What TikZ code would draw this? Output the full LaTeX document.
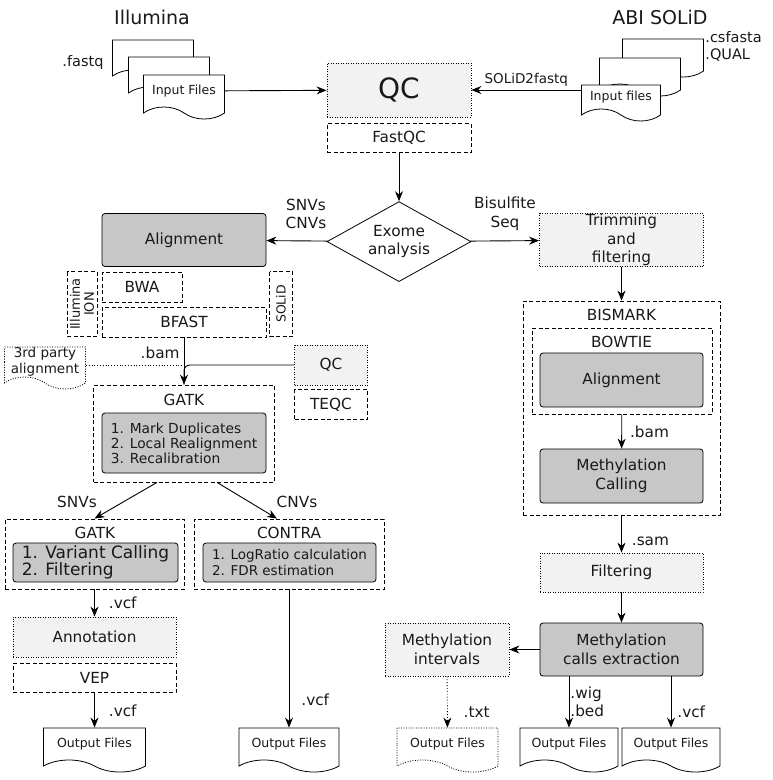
\documentclass[tikz,border=0pt]{standalone}
\usepackage{fontspec}
\setmainfont{DejaVu Sans}
\usetikzlibrary{shapes,arrows.meta,positioning}
\definecolor{fg}{rgb}{0.1,0.1,0.1}
\definecolor{procfill}{rgb}{0.78,0.78,0.78}
\definecolor{lightfill}{rgb}{0.95,0.95,0.95}
\newcommand{\nsize}{\fontsize{15.3}{18.5}\selectfont}
\newcommand{\ssize}{\fontsize{12.5}{14}\selectfont}
\tikzstyle{base}=[inner sep=0pt, align=center, text=fg, font=\nsize, line width=0.8pt]
\tikzstyle{proc}=[base, draw, fill=procfill, rounded corners=3pt]
\tikzstyle{light}=[base, draw, fill=lightfill, dash pattern=on 1pt off 1.5pt]
\tikzstyle{tool}=[base, draw, fill=white, dash pattern=on 4pt off 2.5pt]
\tikzstyle{group}=[base, draw, dash pattern=on 4pt off 2.5pt]
\tikzstyle{doc}=[base, draw, fill=white, tape, tape bend top=none, tape bend bottom=out and in, tape bend height=12pt, font=\ssize]
\tikzstyle{lbl}=[base]
\tikzstyle{myarrow}=[-{Stealth[length=10pt,width=8pt]}, line width=0.9pt]
\tikzset{sz/.style 2 args={minimum width=#1, minimum height=#2}}

\begin{document}
\begin{tikzpicture}[x=1pt, y=-1pt]
    \useasboundingbox (0,0) rectangle (772,780);

    % inputs
    \node[lbl, font=\fontsize{19}{22}\selectfont] (ilmTitle) at (152,17) {Illumina};
    \node[doc, sz={81pt}{42pt}] (ilmBack) at (153,55) {};
    \node[doc, sz={81pt}{42pt}] (ilmMid) at (169,72) {};
    \node[doc, sz={81pt}{44pt}] (ilmFront) at (184,91) {Input Files};
    \node[lbl, font=\fontsize{14.5}{16}\selectfont] (fastq) at (83,62) {.fastq};

    \node[lbl, font=\fontsize{19}{22}\selectfont] (solTitle) at (660,17) {ABI SOLiD};
    \node[doc, sz={81pt}{38pt}] (solBack) at (663,52) {};
    \node[doc, sz={81pt}{38pt}] (solMid) at (640,71) {};
    \node[doc, sz={79pt}{36pt}] (solFront) at (621,97) {Input files};
    \node[lbl, align=left, anchor=west, font=\fontsize{14.5}{17}\selectfont] (solExt) at (705,46) {.csfasta\\.QUAL};

    \node[light, sz={144pt}{54pt}, font=\fontsize{28}{30}\selectfont] (qc) at (399,90) {QC};
    \node[tool, sz={144pt}{29pt}, below=6pt of qc] (fastqc) {FastQC};
    \draw[myarrow] (ilmFront) -- (qc);
    \draw[myarrow] (qc.east -| solFront.west) -- (qc.east)
        node[lbl, midway, above=3pt, font=\fontsize{13.5}{15}\selectfont] (s2f) {SOLiD2fastq};

    \node[base, draw, diamond, aspect=1.8, sz={144pt}{80pt}, below=48pt of fastqc] (exome) {Exome\\analysis};
    \draw[myarrow] (fastqc) -- (exome);

    % exome branch
    \node[proc, sz={164pt}{53pt}] (alignL) at (184,240) {Alignment};
    \draw[myarrow] (exome) -- (alignL);
    \node[lbl] (snvcnv) at (306,214) {SNVs\\CNVs};

    \node[tool, sz={65pt}{30pt}, rotate=90, font=\fontsize{13}{14}\selectfont] (ilmIon) at (82,304) {Illumina\\ION};
    \node[tool, sz={80pt}{30pt}] (bwa) at (142,287) {BWA};
    \node[tool, sz={164pt}{30pt}] (bfast) at (184,322) {BFAST};
    \node[tool, sz={65pt}{23pt}, rotate=90, font=\fontsize{12.5}{14}\selectfont] (solidBox) at (281,304) {SOLiD};

    \node[doc, sz={81pt}{42pt}, dash pattern=on 1pt off 1.5pt, font=\fontsize{13.5}{16}\selectfont] (third) at (45,362) {3rd party\\alignment};
    \node[light, sz={73pt}{40pt}] (qc2) at (331,365) {QC};
    \node[tool, sz={73pt}{30pt}, below=4pt of qc2] (teqc) {TEQC};

    \node[group, sz={181pt}{97pt}] (gatk) at (184,433.5) {};
    \node[lbl] (gatkTitle) at (184,400) {GATK};
    \node[proc, sz={164pt}{60pt}, align=left, font=\fontsize{13.8}{15}\selectfont] (gatkSteps) at (184,443)
        {1. Mark Duplicates\\2. Local Realignment\\3. Recalibration};

    \draw[myarrow] (bfast) -- (gatk) node[lbl, pos=0.33, left=4pt] (bamL) {.bam};
    \draw[dotted, line width=0.8pt] (third.east |- qc2.west) -- (gatk.north |- qc2.west);
    \draw[line width=0.9pt, rounded corners=6pt] (qc2.west) -| (gatk.north);

    \node[group, sz={179pt}{70pt}] (snv) at (94.5,554) {};
    \node[lbl] (snvTitle) at (95,533) {GATK};
    \node[proc, sz={165pt}{39pt}, align=left, font=\fontsize{17}{17}\selectfont] (snvSteps) at (95.5,562.5)
        {1. Variant Calling\\2. Filtering};

    \node[group, sz={190pt}{70pt}] (contra) at (289,554) {};
    \node[lbl] (contraTitle) at (289,533) {CONTRA};
    \node[proc, sz={173pt}{39pt}, align=left, font=\fontsize{13.5}{16}\selectfont] (contraSteps) at (289.5,562.5)
        {1. LogRatio calculation\\2. FDR estimation};

    \draw[myarrow] ([xshift=-27pt]gatk.south) -- (snv.north);
    \draw[myarrow] ([xshift=33pt]gatk.south) -- ([xshift=-12pt]contra.north);
    \node[lbl] (snvs) at (77,502) {SNVs};
    \node[lbl] (cnvs) at (297,502) {CNVs};

    \node[light, sz={163pt}{40pt}] (annot) at (94.5,637) {Annotation};
    \node[tool, sz={163pt}{29pt}, below=6pt of annot] (vep) {VEP};
    \draw[myarrow] (snv) -- (annot) node[lbl, midway, right=14pt] (vcf1) {.vcf};

    \node[doc, sz={102pt}{44pt}] (out1) at (94.5,744) {Output Files};
    \node[doc, sz={100pt}{44pt}] (out2) at (289,744) {Output Files};
    \draw[myarrow] (vep) -- (out1) node[lbl, midway, right=14pt] (vcf2) {.vcf};
    \draw[myarrow] (contra) -- (out2) node[lbl, pos=0.8, right=12pt] (vcf3) {.vcf};

    % bisulfite branch
    \node[light, sz={164pt}{53pt}] (trim) at (621.5,240) {Trimming\\and\\filtering};
    \draw[myarrow] (exome) -- (trim);
    \node[lbl] (bisul) at (505,214) {Bisulfite\\Seq};

    \node[group, sz={197pt}{214pt}] (bismark) at (621.5,408) {};
    \node[lbl] (bismarkTitle) at (621.5,315) {BISMARK};
    \node[group, sz={180pt}{86pt}] (bowtie) at (622,371) {};
    \node[lbl] (bowtieTitle) at (621.5,342) {BOWTIE};
    \node[proc, sz={163pt}{54pt}] (alignR) at (621.5,380) {Alignment};
    \node[proc, sz={163pt}{54pt}] (methCall) at (621.5,476) {Methylation\\Calling};
    \draw[myarrow] (trim) -- (bismark);
    \draw[myarrow] (bowtie) -- (methCall) node[lbl, midway, right=8pt] (bamR) {.bam};

    \node[light, sz={163pt}{39pt}] (filt) at (621.5,572.5) {Filtering};
    \draw[myarrow] (bismark) -- (filt) node[lbl, pos=0.7, right=10pt] (sam) {.sam};
    \node[proc, sz={163pt}{53pt}] (mce) at (621.5,649.5) {Methylation\\calls extraction};
    \draw[myarrow] (filt) -- (mce);

    \node[light, sz={124pt}{53pt}] (mint) at (447,649.5) {Methylation\\intervals};
    \draw[myarrow] (mce) -- (mint);

    \node[doc, sz={101pt}{44pt}, dash pattern=on 1pt off 1.5pt] (out3) at (447.5,744) {Output Files};
    \node[doc, sz={98pt}{44pt}] (out4) at (569,744) {Output Files};
    \node[doc, sz={98pt}{44pt}] (out5) at (671,744) {Output Files};
    \draw[myarrow, dotted] (mint) -- (out3) node[lbl, pos=0.7, right=16pt] (txt) {.txt};
    \draw[myarrow] (out4.north |- mce.south) -- (out4.north)
        node[lbl, align=left, midway, right=1pt, font=\fontsize{15.3}{18}\selectfont] (wigbed) {.wig\\.bed};
    \draw[myarrow] (out5.north |- mce.south) -- (out5.north) node[lbl, pos=0.7, right=6pt] (vcf4) {.vcf};
\end{tikzpicture}
\end{document}
